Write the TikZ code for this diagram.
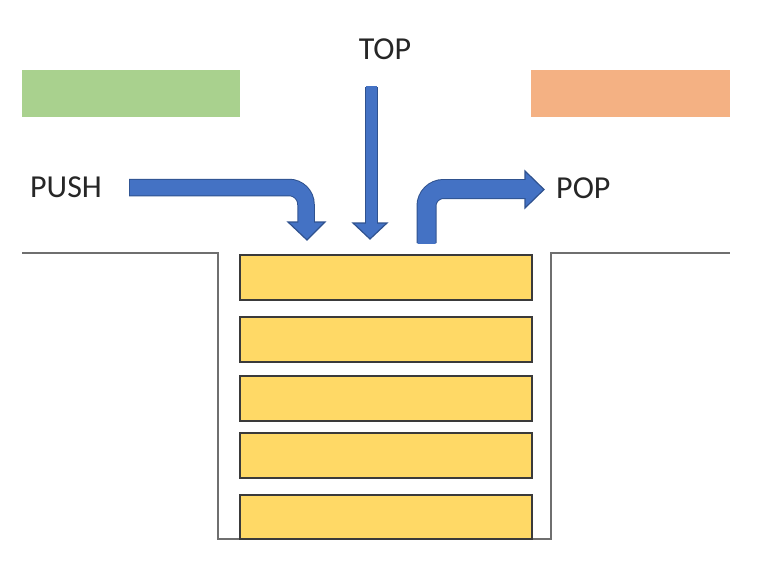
\documentclass[tikz,border=0pt]{standalone}
\usepackage{fontspec}
\setmainfont{Carlito}
\definecolor{bluefill}{HTML}{4472C4}
\definecolor{blueline}{HTML}{2F528F}
\definecolor{greenbox}{HTML}{A9D18E}
\definecolor{orangebox}{HTML}{F4B183}
\definecolor{yellowbar}{HTML}{FFD966}
\definecolor{barline}{HTML}{3A3A3A}
\definecolor{wall}{HTML}{6F6F6F}
\definecolor{txt}{HTML}{262626}
\begin{document}
\begin{tikzpicture}[x=1pt,y=-1pt,
  lbl/.style={font=\fontsize{32}{38}\selectfont, text=txt, inner sep=0pt},
  bar/.style={draw=barline, line width=2pt, fill=yellowbar},
  headstyle/.style={fill=bluefill, draw=blueline, line width=1.2pt, line join=miter},
  shaftout/.style={draw=blueline, line cap=butt},
  shaftin/.style={draw=bluefill, line cap=butt}]
\useasboundingbox (0,0) rectangle (768,574);
% colour boxes
\node[fill=greenbox, minimum width=218pt, minimum height=47pt, inner sep=0pt, anchor=north west] (green) at (22,70) {};
\node[fill=orangebox, minimum width=199pt, minimum height=47pt, inner sep=0pt, anchor=north west] (orange) at (531,70) {};
% labels
\node[lbl, anchor=west] (push) at (30,187) {PUSH};
\node[lbl] (top) at (385,49) {TOP};
\node[lbl, anchor=west] (pop) at (556,188) {POP};
% well
\coordinate (gl) at (22,253);
\coordinate (gr) at (730,253);
\draw[wall, line width=1.8pt] (gl) -- (218,253) -- (218,539) -- (551,539) -- (551,253) -- (gr);
% bars
\node[bar, minimum width=292pt, minimum height=45pt, inner sep=0pt, anchor=north west] (b1) at (239,254) {};
\node[bar, minimum width=292pt, minimum height=45pt, inner sep=0pt, anchor=north west] (b2) at (239,316) {};
\node[bar, minimum width=292pt, minimum height=45pt, inner sep=0pt, anchor=north west] (b3) at (239,374.5) {};
\node[bar, minimum width=292pt, minimum height=45pt, inner sep=0pt, anchor=north west] (b4) at (239,432) {};
\node[bar, minimum width=292pt, minimum height=44pt, inner sep=0pt, anchor=north west] (b5) at (239,494) {};
% PUSH arrow
\coordinate (pushs) at (129,187.5);
\coordinate (pushc) at (306,187.5);
\coordinate (pushe) at (306,224);
\draw[shaftout, line width=17.5pt, rounded corners=17pt] (pushs) -- (pushc) -- (306,222);
\draw[headstyle] (288,222) -- (325,222) -- (307,240) -- cycle;
\draw[shaftin, line width=15.5pt, rounded corners=17pt] ([xshift=0.9pt]pushs) -- (pushc) -- (pushe);
% TOP arrow
\coordinate (tops) at (371,87);
\coordinate (tope) at (371,225);
\draw[shaftout, line width=13pt] (tops) -- (371,223);
\draw[headstyle] (353,223) -- (387,223) -- (370,239) -- cycle;
\draw[shaftin, line width=11pt] ([yshift=0.9pt]tops) -- (tope);
% POP arrow
\coordinate (pops) at (426.5,243);
\coordinate (popc) at (426.5,189);
\coordinate (pope) at (527,189);
\draw[shaftout, line width=20pt, rounded corners=17pt] (pops) -- (popc) -- (525,189);
\draw[headstyle] (525,171) -- (525,208) -- (544,189.5) -- cycle;
\draw[shaftin, line width=18pt, rounded corners=17pt] ([yshift=-0.9pt]pops) -- (popc) -- (pope);
\end{tikzpicture}
\end{document}
